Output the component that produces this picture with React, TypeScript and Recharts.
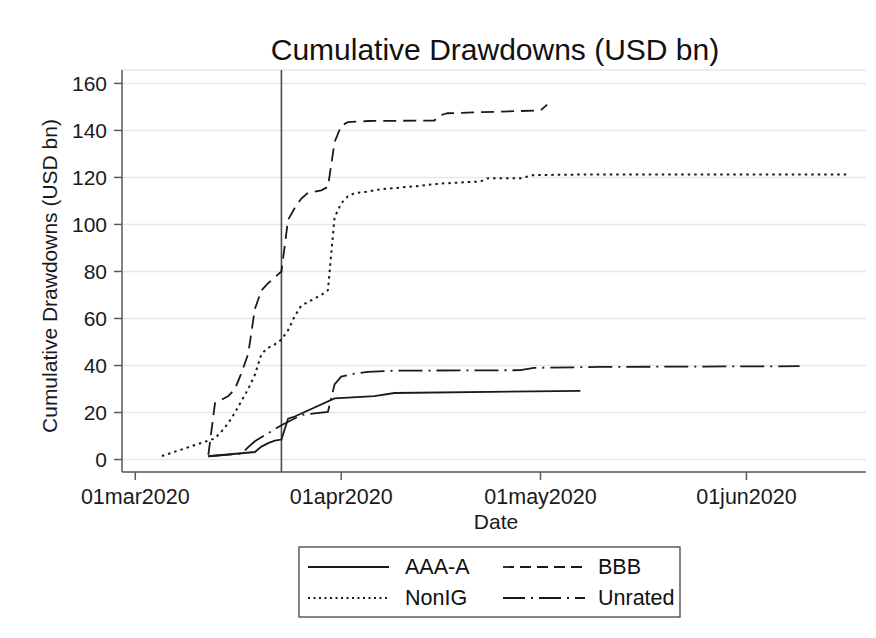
import React from 'react';
import { LineChart, Line, XAxis, YAxis, CartesianGrid, ReferenceLine } from 'recharts';

const BASE = Date.UTC(2020, 2, 1);
const toDay = (s: string) => Math.round((Date.parse(s + 'T00:00:00Z') - BASE) / 86400000);

const aaaDates = ['2020-03-12', '2020-03-19', '2020-03-20', '2020-03-21', '2020-03-22', '2020-03-23', '2020-03-24', '2020-03-25', '2020-03-31', '2020-04-06', '2020-04-09', '2020-05-07'];
const aaaValues = [1.4, 3.2, 5.5, 7, 8, 8.5, 17.4, 18.3, 26, 27, 28.3, 29.2];

const bbbDates = ['2020-03-12', '2020-03-13', '2020-03-15', '2020-03-16', '2020-03-17', '2020-03-18', '2020-03-19', '2020-03-20', '2020-03-21', '2020-03-22', '2020-03-23', '2020-03-24', '2020-03-25', '2020-03-26', '2020-03-27', '2020-03-29', '2020-03-30', '2020-03-31', '2020-04-01', '2020-04-02', '2020-04-05', '2020-04-15', '2020-04-16', '2020-04-17', '2020-04-25', '2020-05-01', '2020-05-02'];
const bbbValues = [2, 24, 27, 30, 37, 45, 64, 72, 75, 77.5, 80, 102, 107, 111, 113.5, 114.5, 116, 135, 142, 143.5, 144, 144.2, 146.5, 147.3, 148, 148.5, 151];

const nonIgDates = ['2020-03-05', '2020-03-13', '2020-03-14', '2020-03-15', '2020-03-16', '2020-03-17', '2020-03-18', '2020-03-19', '2020-03-20', '2020-03-21', '2020-03-22', '2020-03-23', '2020-03-24', '2020-03-25', '2020-03-26', '2020-03-27', '2020-03-28', '2020-03-29', '2020-03-30', '2020-03-31', '2020-04-01', '2020-04-02', '2020-04-03', '2020-04-05', '2020-04-07', '2020-04-10', '2020-04-13', '2020-04-16', '2020-04-20', '2020-04-22', '2020-04-23', '2020-04-28', '2020-04-30', '2020-05-10', '2020-06-16'];
const nonIgValues = [1.5, 9, 12, 15.5, 20, 25, 30, 36, 45, 47.5, 49, 51, 55, 61, 65.5, 67, 68.5, 70, 72, 103, 109, 112, 113.3, 114, 115, 115.7, 116.5, 117.4, 118, 118.3, 119.6, 119.7, 121, 121.3, 121.3];

const unratedDates = ['2020-03-12', '2020-03-17', '2020-03-18', '2020-03-19', '2020-03-23', '2020-03-26', '2020-03-28', '2020-03-30', '2020-03-31', '2020-04-01', '2020-04-03', '2020-04-05', '2020-04-09', '2020-04-28', '2020-04-30', '2020-05-10', '2020-06-09'];
const unratedValues = [1.4, 2.5, 5.3, 7.8, 14.6, 19, 19.6, 20.3, 32, 35.3, 36.5, 37.3, 37.8, 38, 39, 39.4, 39.7];

const xTickDates = ['2020-03-01', '2020-04-01', '2020-05-01', '2020-06-01'];
const xTickLabels = ['01mar2020', '01apr2020', '01may2020', '01jun2020'];
const yTicks = [0, 20, 40, 60, 80, 100, 120, 140, 160];
const eventDate = '2020-03-23';

const seriesNames = ['AAA-A', 'BBB', 'NonIG', 'Unrated'];

const build = (dates: string[], values: number[]) => dates.map((d, i) => ({ x: toDay(d), y: values[i] }));

const aaaData = build(aaaDates, aaaValues);
const bbbData = build(bbbDates, bbbValues);
const nonIgData = build(nonIgDates, nonIgValues);
const unratedData = build(unratedDates, unratedValues);

const xTicks = xTickDates.map(toDay);
const tickLabelFor = (v: number) => {
  const i = xTicks.indexOf(v);
  return i >= 0 ? xTickLabels[i] : '';
};

const INK = '#1a1a1a';
const AXIS = '#5a5a5a';
const FONT = '"Liberation Sans", Arial, sans-serif';

const DASH = {
  bbb: '13 7',
  nonig: '2.5 4',
  unrated: '24 6 2 6',
};

export default function App() {
  return (
    <div style={{ position: 'absolute', left: 0, top: 0, width: 876, height: 638, background: '#fff', fontFamily: FONT }}>
      <LineChart
        width={876}
        height={638}
        margin={{ top: 70, right: 10, bottom: 106, left: 0 }}
        style={{ fontFamily: FONT }}
      >
        <CartesianGrid vertical={false} stroke="#e8e8e8" strokeWidth={1.5} />
        <XAxis
          type="number"
          dataKey="x"
          domain={[-2, 110]}
          ticks={xTicks}
          interval={0}
          tickFormatter={tickLabelFor}
          allowDataOverflow
          stroke={AXIS}
          strokeWidth={1.5}
          tickSize={8}
          tickMargin={9}
          tick={{ fill: '#1a1a1a', fontSize: 21.5, fontFamily: FONT }}
          tickLine={{ stroke: AXIS, strokeWidth: 1.5 }}
          height={60}
        />
        <YAxis
          type="number"
          dataKey="y"
          domain={[-5.3, 165.7]}
          ticks={yTicks}
          interval={0}
          allowDataOverflow
          width={122}
          stroke={AXIS}
          strokeWidth={1.5}
          tickSize={8}
          tickMargin={7}
          tick={{ fill: '#1a1a1a', fontSize: 21, fontFamily: FONT }}
          tickLine={{ stroke: AXIS, strokeWidth: 1.5 }}
        />
        <ReferenceLine x={toDay(eventDate)} stroke="#4a4a4a" strokeWidth={1.6} />
        <Line data={aaaData} dataKey="y" name={seriesNames[0]} type="linear" stroke={INK} strokeWidth={1.8} dot={false} isAnimationActive={false} />
        <Line data={bbbData} dataKey="y" name={seriesNames[1]} type="linear" stroke={INK} strokeWidth={1.8} strokeDasharray={DASH.bbb} dot={false} isAnimationActive={false} />
        <Line data={nonIgData} dataKey="y" name={seriesNames[2]} type="linear" stroke={INK} strokeWidth={2} strokeDasharray={DASH.nonig} dot={false} isAnimationActive={false} />
        <Line data={unratedData} dataKey="y" name={seriesNames[3]} type="linear" stroke={INK} strokeWidth={1.8} strokeDasharray={DASH.unrated} dot={false} isAnimationActive={false} />
      </LineChart>
      <svg width={876} height={638} style={{ position: 'absolute', left: 0, top: 0, pointerEvents: 'none' }}>
        <text x={495} y={60} textAnchor="middle" fontSize={30} fill="#111" fontFamily={FONT}>
          Cumulative Drawdowns (USD bn)
        </text>
        <text x={57} y={276} textAnchor="middle" fontSize={21} fill="#1a1a1a" fontFamily={FONT} transform="rotate(-90 57 276)">
          Cumulative Drawdowns (USD bn)
        </text>
        <text x={496} y={529} textAnchor="middle" fontSize={21} fill="#1a1a1a" fontFamily={FONT}>
          Date
        </text>
        <rect x={299} y={547} width={381} height={70} fill="#fff" stroke="#444" strokeWidth={1.3} />
        <line x1={308} y1={567} x2={389} y2={567} stroke={INK} strokeWidth={1.8} />
        <text x={405} y={574} fontSize={21.5} fill="#111" fontFamily={FONT}>{seriesNames[0]}</text>
        <line x1={503} y1={567} x2={585} y2={567} stroke={INK} strokeWidth={1.8} strokeDasharray="11 6" />
        <text x={598} y={574} fontSize={21.5} fill="#111" fontFamily={FONT}>{seriesNames[1]}</text>
        <line x1={308} y1={598} x2={389} y2={598} stroke={INK} strokeWidth={1.8} strokeDasharray="2 3.5" />
        <text x={405} y={605} fontSize={21.5} fill="#111" fontFamily={FONT}>{seriesNames[2]}</text>
        <line x1={503} y1={598} x2={585} y2={598} stroke={INK} strokeWidth={1.8} strokeDasharray="22 6 2 6" />
        <text x={598} y={605} fontSize={21.5} fill="#111" fontFamily={FONT}>{seriesNames[3]}</text>
      </svg>
    </div>
  );
}
